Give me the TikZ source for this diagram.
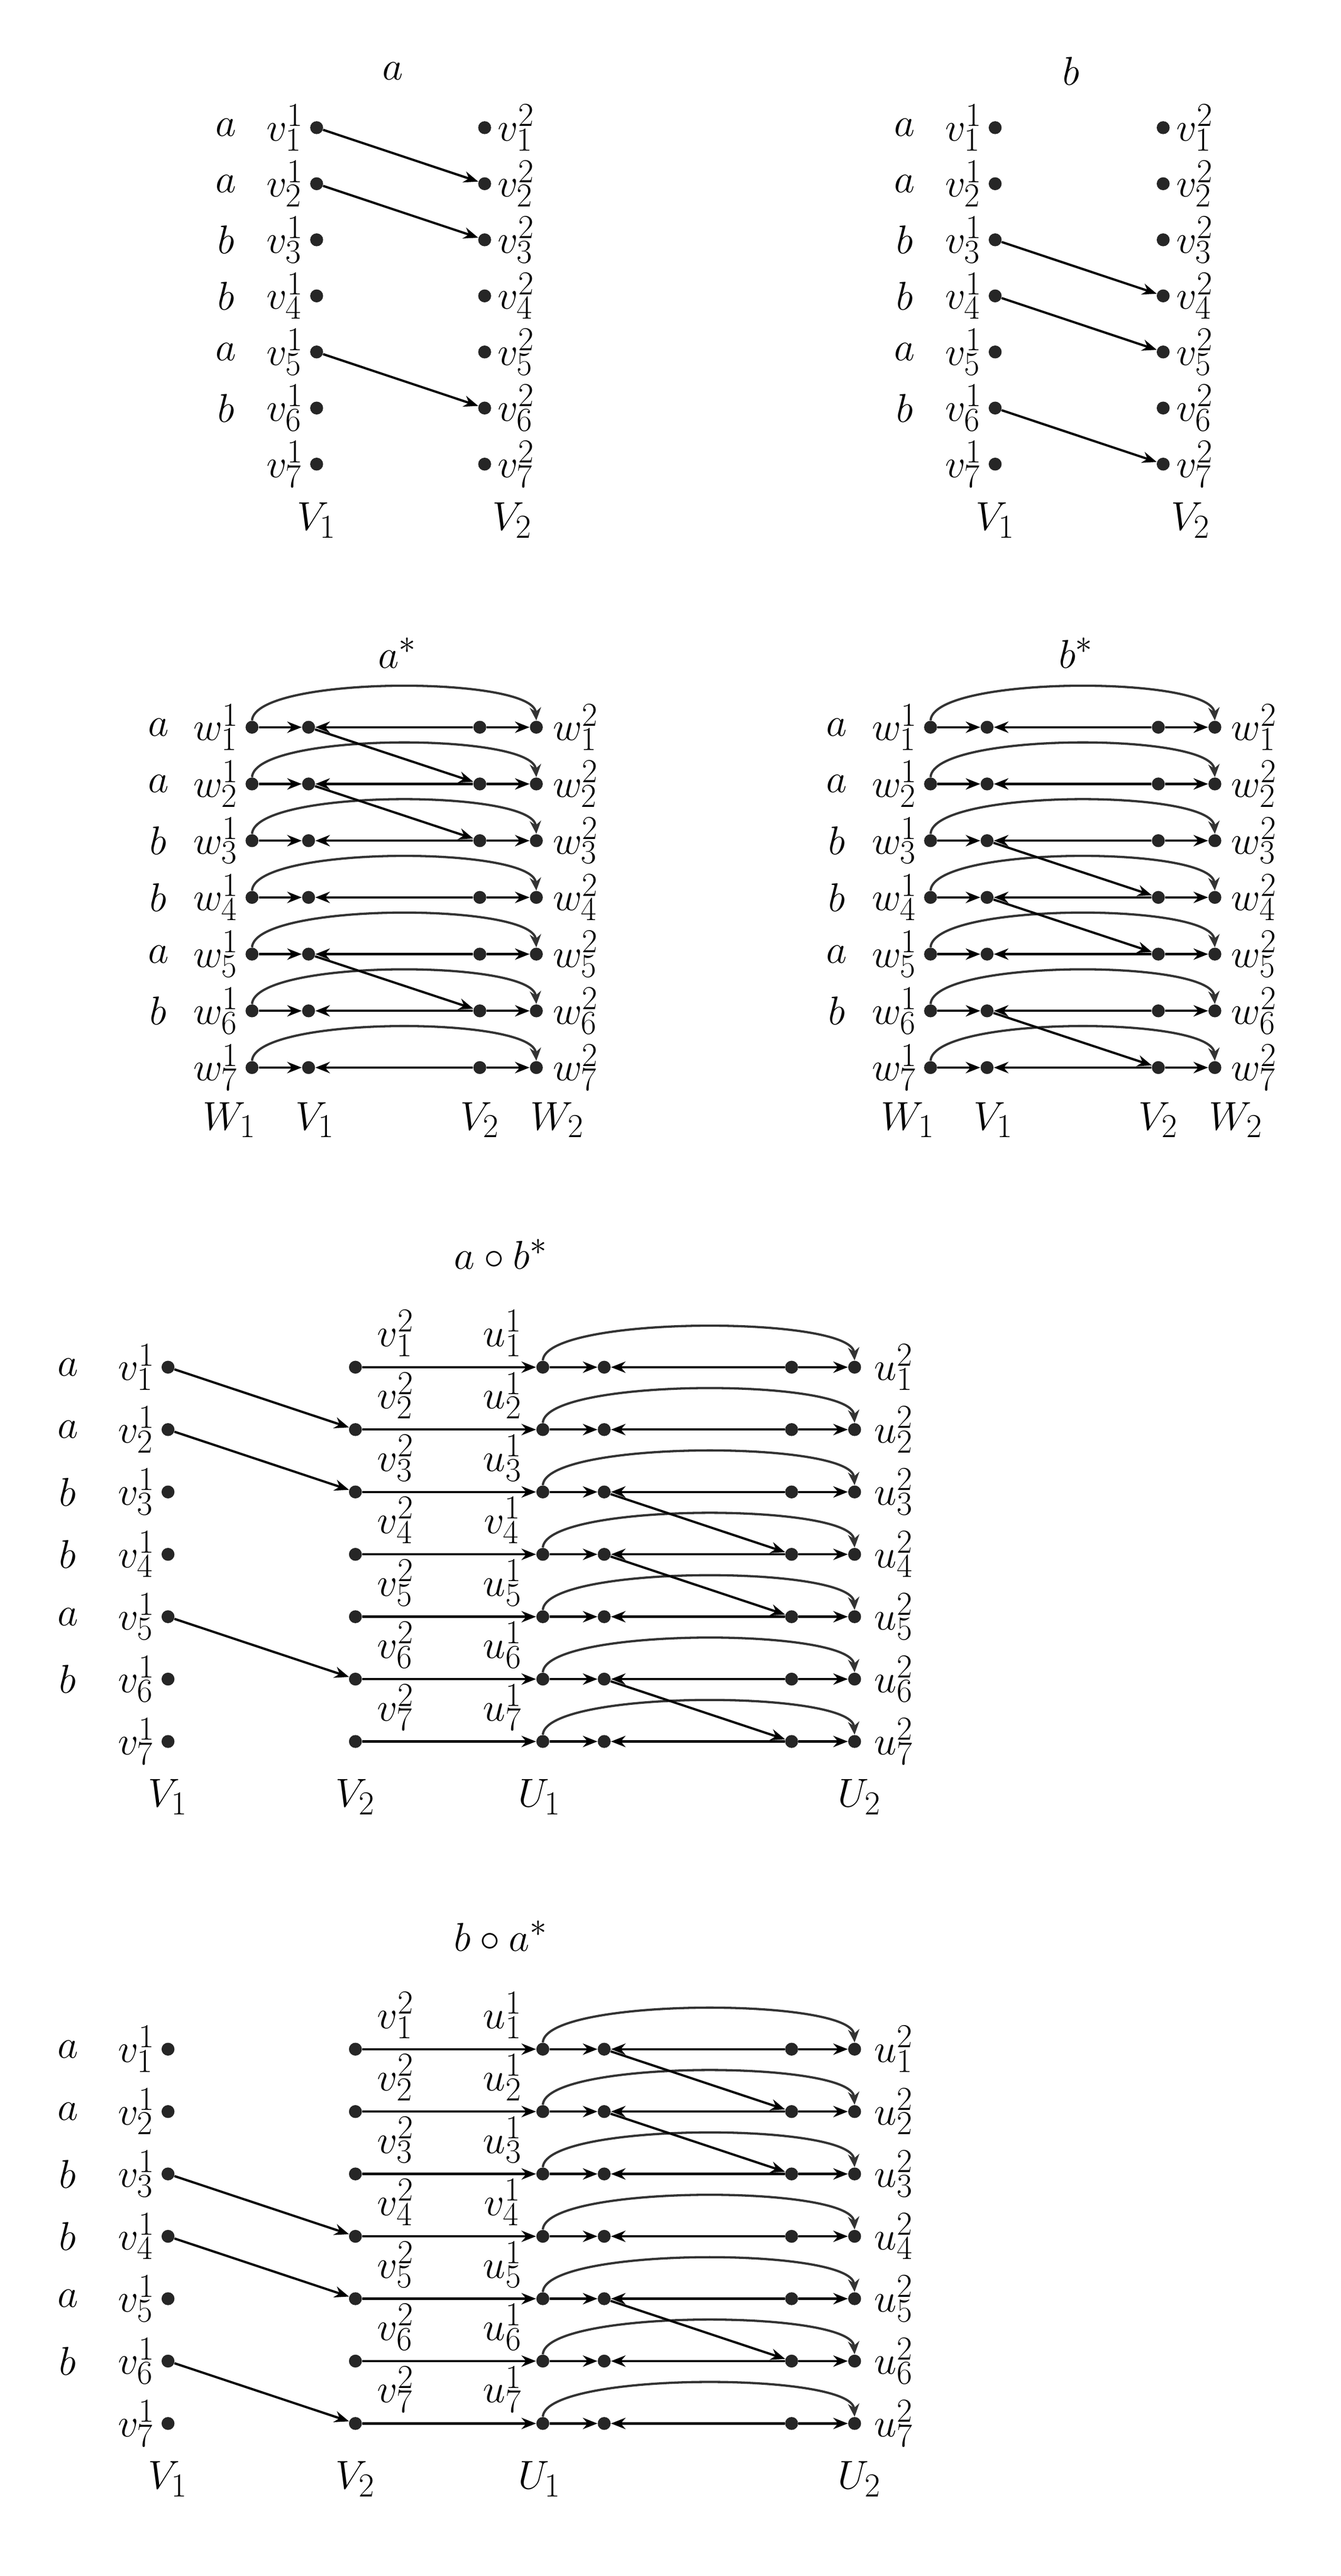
\documentclass[tikz,border=0pt]{standalone}
\usetikzlibrary{arrows.meta,calc}
\begin{document}
\begin{tikzpicture}[x=1pt,y=-1pt,
  dot/.style={circle,fill=black!85,inner sep=0pt,minimum size=8pt},
  lbl/.style={inner sep=0pt,font=\fontsize{29}{32}\selectfont},
  arr/.style={line width=1.4pt,-{Stealth[length=9pt,width=7pt]}},
  curv/.style={line width=1.4pt,draw=black!80,-{Stealth[length=8pt,width=7pt]}}]
\useasboundingbox (0,0) rectangle (830,1594);
\def\letters{{"a","a","b","b","a","b",""}}
% ---------- simple panels ----------
\foreach \ox/\tt/\edges/\nm in {0/a/{1/2,2/3,5/6}/pa, 420/b/{3/4,4/5,6/7}/pb}{
  \node[lbl] (\nm-title) at (243+\ox,44) {$\tt$};
  \foreach \i in {1,...,7}{
    \pgfmathsetmacro\yy{79+(\i-1)*34.7}
    \pgfmathsetmacro\lt{\letters[\i-1]}
    \node[dot] (\nm-l\i) at (196+\ox,\yy) {};
    \node[dot] (\nm-r\i) at (300+\ox,\yy) {};
    \node[lbl] (\nm-c\i) at (140+\ox,\yy) {$\lt$};
    \node[lbl,anchor=east] (\nm-vl\i) at (188+\ox,\yy) {$v^1_\i$};
    \node[lbl,anchor=west] (\nm-vr\i) at (308+\ox,\yy) {$v^2_\i$};
  }
  \node[lbl] (\nm-V1) at (196+\ox,322) {$V_1$};
  \node[lbl] (\nm-V2) at (317+\ox,322) {$V_2$};
  \foreach \s/\t in \edges { \draw[arr] (\nm-l\s) -- (\nm-r\t); }
}
% ---------- star panels ----------
\foreach \ox/\tt/\edges/\nm in {0/a/{1/2,2/3,5/6}/sa, 420/b/{3/4,4/5,6/7}/sb}{
  \node[lbl] (\nm-title) at (246+\ox,404) {$\tt^*$};
  \foreach \i in {1,...,7}{
    \pgfmathsetmacro\yy{450+(\i-1)*35.1}
    \pgfmathsetmacro\lt{\letters[\i-1]}
    \node[dot] (\nm-a\i) at (156+\ox,\yy) {};
    \node[dot] (\nm-b\i) at (191+\ox,\yy) {};
    \node[dot] (\nm-c\i) at (297+\ox,\yy) {};
    \node[dot] (\nm-d\i) at (332+\ox,\yy) {};
    \node[lbl] (\nm-t\i) at (98+\ox,\yy) {$\lt$};
    \node[lbl,anchor=east] (\nm-wl\i) at (148+\ox,\yy) {$w^1_\i$};
    \node[lbl,anchor=west] (\nm-wr\i) at (342+\ox,\yy) {$w^2_\i$};
    \draw[arr] (\nm-a\i) -- (\nm-b\i);
    \draw[arr] (\nm-c\i) -- (\nm-b\i);
    \draw[arr] (\nm-c\i) -- (\nm-d\i);
    \draw[curv] (\nm-a\i.north) .. controls ($(\nm-a\i)+(2,-32)$) and ($(\nm-d\i)+(-2,-32)$) .. (\nm-d\i.north);
  }
  \node[lbl] at (142+\ox,693) {$W_1$};
  \node[lbl] at (195+\ox,693) {$V_1$};
  \node[lbl] at (297+\ox,693) {$V_2$};
  \node[lbl] at (345+\ox,693) {$W_2$};
  \foreach \s/\t in \edges { \draw[arr] (\nm-b\s) -- (\nm-c\t); }
}
% ---------- composite panels ----------
\foreach \oy/\tt/\ledges/\redges/\nm in {846/{a\circ b^*}/{1/2,2/3,5/6}/{3/4,4/5,6/7}/ca, 1268/{b\circ a^*}/{3/4,4/5,6/7}/{1/2,2/3,5/6}/cb}{
  \node[lbl] (\nm-title) at (310,\oy-70) {$\tt$};
  \foreach \i in {1,...,7}{
    \pgfmathsetmacro\yy{\oy+(\i-1)*38.6}
    \pgfmathsetmacro\lt{\letters[\i-1]}
    \node[dot] (\nm-p\i) at (104,\yy) {};
    \node[dot] (\nm-q\i) at (220,\yy) {};
    \node[dot] (\nm-a\i) at (336,\yy) {};
    \node[dot] (\nm-b\i) at (374,\yy) {};
    \node[dot] (\nm-c\i) at (490,\yy) {};
    \node[dot] (\nm-d\i) at (529,\yy) {};
    \node[lbl] (\nm-t\i) at (42,\yy) {$\lt$};
    \node[lbl,anchor=east] (\nm-vl\i) at (96,\yy) {$v^1_\i$};
    \node[lbl,anchor=west] (\nm-ur\i) at (541,\yy) {$u^2_\i$};
    \node[lbl] (\nm-vq\i) at (245,\yy-21) {$v^2_\i$};
    \ifnum\i=4
      \node[lbl] (\nm-ua\i) at (311,\yy-21) {$v^1_\i$};
    \else
      \node[lbl] (\nm-ua\i) at (311,\yy-21) {$u^1_\i$};
    \fi
    \draw[arr] (\nm-q\i) -- (\nm-a\i);
    \draw[arr] (\nm-a\i) -- (\nm-b\i);
    \draw[arr] (\nm-c\i) -- (\nm-b\i);
    \draw[arr] (\nm-c\i) -- (\nm-d\i);
    \draw[curv] (\nm-a\i.north) .. controls ($(\nm-a\i)+(2,-32)$) and ($(\nm-d\i)+(-2,-32)$) .. (\nm-d\i.north);
  }
  \node[lbl] at (104,\oy+266) {$V_1$};
  \node[lbl] at (220,\oy+266) {$V_2$};
  \node[lbl] at (334,\oy+266) {$U_1$};
  \node[lbl] at (532,\oy+266) {$U_2$};
  \foreach \s/\t in \ledges { \draw[arr] (\nm-p\s) -- (\nm-q\t); }
  \foreach \s/\t in \redges { \draw[arr] (\nm-b\s) -- (\nm-c\t); }
}
\end{tikzpicture}
\end{document}
